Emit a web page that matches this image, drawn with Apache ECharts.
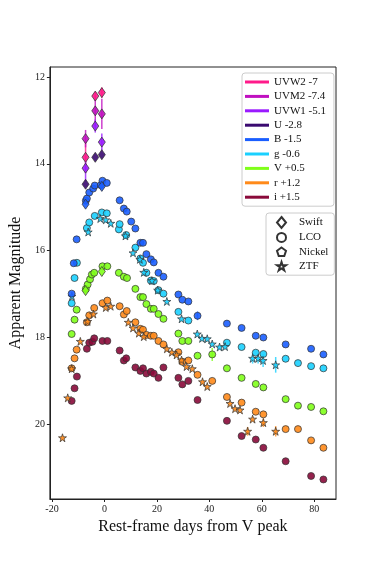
<!DOCTYPE html>
<html>
<head>
<meta charset="utf-8">
<script src="https://cdn.jsdelivr.net/npm/echarts@6/dist/echarts.min.js"></script>
<style>
  html, body { margin: 0; padding: 0; background: #fff; }
  #chart { width: 374px; height: 561px; }
</style>
</head>
<body>
<div id="chart"></div>
<script>
// band labels (legend) and tick values
const bandNames = ['UVW2 -7', 'UVM2 -7.4', 'UVW1 -5.1', 'U -2.8', 'B -1.5', 'g -0.6', 'V +0.5', 'r +1.2', 'i +1.5']
const bandColors = ['#ff1a8a', '#c010c0', '#9a1aff', '#3a0a70', '#1a5eff', '#1ad0ff', '#80ff1a', '#ff8a1a', '#8a0a3a']
const telescopes = ['Swift', 'LCO', 'Nickel', 'ZTF']
const xTicks = [-20, 0, 20, 40, 60, 80]
const yTicks = [12, 14, 16, 18, 20]

// [rest-frame day, apparent magnitude]
const uvw2Swift = [[-7.2, 13.85], [-3.5, 12.44], [-1.0, 12.36]]
const uvm2Swift = [[-7.2, 13.42], [-3.5, 12.78], [-1.0, 12.85]]
const uvw1Swift = [[-7.2, 14.10], [-3.5, 13.13], [-1.0, 13.50]]
const uSwift = [[-7.2, 14.47], [-3.5, 13.85], [-1.0, 13.79]]
const bSwift = [[-7.2, 14.93], [-1.0, 14.52]]
const vSwift = [[-7.2, 16.92], [-1.0, 16.48]]

const bLCO = [[-12.5, 16.99], [-11.7, 16.29], [-10.6, 15.74], [-7.1, 14.85], [-6.7, 14.80], [-5.8, 14.66], [-4.3, 14.57],
  [-3.7, 14.50], [-1.4, 14.49], [-0.75, 14.39], [0.9, 14.44], [5.8, 14.84], [7.4, 15.03], [8.5, 15.10], [10.2, 15.33],
  [11.8, 15.49], [13.7, 15.82], [14.7, 15.82], [16.0, 16.08], [17.7, 16.20], [18.8, 16.27], [20.6, 16.51], [22.5, 16.60],
  [28.2, 17.01], [29.7, 17.13], [32.0, 17.17], [35.5, 17.50], [46.7, 17.68], [52.3, 17.78], [57.7, 17.96], [60.6, 18.00],
  [69.1, 18.16], [78.8, 18.26], [83.5, 18.39]]
const gLCO = [[-12.5, 17.21], [-11.4, 16.63], [-10.5, 16.28], [-6.7, 15.48], [-5.8, 15.35], [-3.7, 15.20], [-1.0, 15.12],
  [0.9, 15.14], [5.5, 15.51], [5.8, 15.39], [8.3, 15.64], [11.8, 15.93], [13.7, 16.18], [14.7, 16.28], [16.0, 16.51],
  [17.7, 16.69], [18.8, 16.70], [20.6, 16.91], [22.5, 16.99], [28.2, 17.41], [32.0, 17.61], [46.7, 18.12], [52.3, 18.22],
  [57.7, 18.35], [60.6, 18.38], [69.1, 18.49], [73.8, 18.59], [78.8, 18.66], [83.5, 18.71]]
const vLCO = [[-12.5, 17.92], [-11.4, 17.59], [-10.6, 17.36], [-7.1, 16.88], [-6.4, 16.78], [-5.5, 16.66], [-4.8, 16.55],
  [-3.9, 16.51], [-0.75, 16.36], [1.1, 16.36], [5.5, 16.51], [7.4, 16.60], [8.6, 16.63], [11.8, 16.88], [13.7, 17.07],
  [14.7, 17.07], [16.0, 17.23], [17.7, 17.34], [18.8, 17.34], [20.6, 17.46], [22.5, 17.57], [28.2, 17.91], [29.7, 18.08],
  [32.0, 18.08], [35.5, 18.42], [41.1, 18.39], [46.7, 18.71], [52.3, 18.93], [57.7, 19.07], [60.6, 19.15], [69.1, 19.42],
  [73.8, 19.57], [78.8, 19.60], [83.5, 19.70]]
const rLCO = [[-12.5, 18.71], [-11.4, 18.48], [-10.6, 18.28], [-6.7, 17.65], [-5.8, 17.49], [-3.9, 17.32], [-0.75, 17.21],
  [1.1, 17.15], [5.8, 17.28], [7.4, 17.47], [8.5, 17.39], [11.8, 17.65], [13.7, 17.80], [14.7, 17.82], [16.0, 17.94],
  [17.7, 17.96], [18.8, 17.96], [20.6, 18.08], [22.5, 18.16], [28.2, 18.34], [29.7, 18.56], [32.0, 18.53], [35.5, 18.86],
  [41.1, 19.00], [46.7, 19.37], [52.3, 19.50], [57.7, 19.71], [60.6, 19.77], [69.1, 20.11], [73.8, 20.11], [78.8, 20.37],
  [83.5, 20.54]]
const iLCO = [[-12.5, 19.46], [-11.4, 19.17], [-10.5, 18.90], [-6.7, 18.26], [-5.8, 18.12], [-4.6, 18.10], [-3.9, 18.02],
  [-0.75, 18.08], [1.1, 18.08], [5.8, 18.30], [7.4, 18.53], [8.3, 18.48], [11.8, 18.69], [13.7, 18.77], [14.7, 18.71],
  [16.0, 18.83], [17.7, 18.79], [18.8, 18.83], [20.6, 18.93], [22.5, 18.69], [28.2, 18.93], [29.7, 19.08], [32.0, 19.00],
  [35.5, 19.44], [46.7, 19.92], [52.3, 20.27], [57.7, 20.35], [60.6, 20.54], [69.1, 20.85], [78.8, 21.19], [83.5, 21.27]]

const gZTF = [[-12.4, 17.05], [-6.2, 15.57], [-1.6, 15.26], [0.5, 15.29], [2.4, 15.37], [8.0, 15.66], [10.9, 16.05],
  [13.5, 16.20], [15.0, 16.50], [18.1, 16.69], [20.3, 16.91], [23.8, 17.17], [29.4, 17.57], [35.4, 17.92], [37.2, 18.02],
  [39.2, 18.03], [41.1, 18.15], [43.9, 18.22], [46.0, 18.21], [56.5, 18.48], [58.6, 18.48], [60.5, 18.53], [65.3, 18.63]]
const rZTF = [[-16.0, 20.31], [-14.0, 19.39], [-12.5, 18.72], [-9.2, 18.09], [-6.4, 17.63], [-4.2, 17.46], [0.5, 17.31],
  [2.4, 17.28], [9.1, 17.65], [10.9, 17.78], [13.1, 17.90], [15.0, 17.98], [23.8, 18.26], [25.7, 18.34], [27.5, 18.40],
  [29.4, 18.52], [31.3, 18.67], [33.5, 18.72], [37.4, 19.02], [39.2, 19.13], [47.9, 19.52], [49.8, 19.64], [51.7, 19.67],
  [54.6, 20.16], [56.5, 19.88], [60.6, 19.96], [65.3, 20.16]]

// error bars: [day, mag, err]
const uvw2Err = [[-7.2, 13.85, 0.35], [-3.5, 12.44, 0.1], [-1.0, 12.36, 0.12]]
const uvm2Err = [[-7.2, 13.42, 0.2], [-3.5, 12.78, 0.35], [-1.0, 12.85, 0.35]]
const uvw1Err = [[-7.2, 14.10, 0.3], [-3.5, 13.13, 0.15], [-1.0, 13.50, 0.2]]
const bErr = [[35.5, 17.50, 0.1]]
const gErr = [[56.5, 18.48, 0.12], [58.6, 18.48, 0.12], [60.5, 18.53, 0.15], [65.3, 18.63, 0.18]]
const vErr = [[41.1, 18.39, 0.15]]
const rErr = [[54.6, 20.16, 0.1], [60.6, 19.96, 0.1], [65.3, 20.16, 0.12]]

const serif = '"Liberation Serif", "DejaVu Serif", serif'
const pentagon = 'path://M0,-1 L0.951,-0.309 L0.588,0.809 L-0.588,0.809 L-0.951,-0.309 Z'
const star = 'path://M0,-1 L0.2245,-0.309 L0.951,-0.309 L0.363,0.118 L0.588,0.809 L0,0.382 L-0.588,0.809 L-0.363,0.118 L-0.951,-0.309 L-0.2245,-0.309 Z'
const telSymbols = { Swift: 'diamond', LCO: 'circle', Nickel: pentagon, ZTF: star }
const telSizes = { Swift: [7, 10], LCO: 7, Nickel: 8, ZTF: 8 }

function errSeries(data, color) {
  return {
    type: 'custom',
    silent: true,
    z: 1,
    data: data,
    renderItem: function (params, api) {
      const p1 = api.coord([api.value(0), api.value(1) - api.value(2)])
      const p2 = api.coord([api.value(0), api.value(1) + api.value(2)])
      return {
        type: 'line',
        shape: { x1: p1[0], y1: p1[1], x2: p2[0], y2: p2[1] },
        style: { stroke: color, lineWidth: 1.5, opacity: 0.8 }
      }
    }
  }
}

function pts(data, band, tel) {
  return {
    type: 'scatter',
    z: 3,
    data: data,
    symbol: telSymbols[tel],
    symbolSize: telSizes[tel],
    itemStyle: { color: bandColors[band], borderColor: '#333', borderWidth: 0.8, opacity: 0.9 }
  }
}

const series = []
// dummy series, only for the two legends
bandNames.forEach((n, i) => series.push({ name: n, type: 'line', data: [], color: bandColors[i] }))
telescopes.forEach(t => series.push({
  name: t, type: 'scatter', data: [], symbol: telSymbols[t],
  itemStyle: { color: '#fff', borderColor: '#000', borderWidth: t === 'ZTF' ? 0.9 : 1.2 }
}))

series.push(errSeries(uvw2Err, bandColors[0]), errSeries(uvm2Err, bandColors[1]), errSeries(uvw1Err, bandColors[2]),
  errSeries(bErr, bandColors[4]), errSeries(gErr, bandColors[5]), errSeries(vErr, bandColors[6]), errSeries(rErr, bandColors[7]))

series.push(
  pts(iLCO, 8, 'LCO'), pts(rLCO, 7, 'LCO'), pts(rZTF, 7, 'ZTF'), pts(vLCO, 6, 'LCO'), pts(vSwift, 6, 'Swift'),
  pts(gLCO, 5, 'LCO'), pts(gZTF, 5, 'ZTF'), pts(bLCO, 4, 'LCO'), pts(bSwift, 4, 'Swift'),
  pts(uSwift, 3, 'Swift'), pts(uvw1Swift, 2, 'Swift'), pts(uvm2Swift, 1, 'Swift'), pts(uvw2Swift, 0, 'Swift')
)

const chart = echarts.init(document.getElementById('chart'), null, { renderer: 'canvas' })
chart.setOption({
  animation: false,
  backgroundColor: '#fff',
  grid: { left: 47, right: 38, top: 67, bottom: 62, show: true, borderColor: '#222', borderWidth: 1 },
  legend: [
    {
      data: bandNames,
      orient: 'vertical',
      left: 242, top: 73,
      icon: 'rect', itemWidth: 24, itemHeight: 3, itemGap: 2.4,
      padding: [3, 8, 3, 3],
      selectedMode: false,
      borderColor: '#ccc', borderWidth: 1, borderRadius: 3,
      textStyle: { fontFamily: serif, fontSize: 11, color: '#111', lineHeight: 12 }
    },
    {
      data: telescopes,
      orient: 'vertical',
      left: 266, top: 213,
      itemWidth: 9, itemHeight: 11, itemGap: 2.4,
      padding: [3, 6, 3, 10],
      selectedMode: false,
      borderColor: '#ccc', borderWidth: 1, borderRadius: 3,
      textStyle: { fontFamily: serif, fontSize: 11, color: '#111', lineHeight: 12, padding: [0, 0, 0, 8] }
    }
  ],
  xAxis: {
    type: 'value', min: -20.8, max: 88.3,
    name: 'Rest-frame days from V peak', nameLocation: 'middle', nameGap: 17,
    nameTextStyle: { fontFamily: serif, fontSize: 16, color: '#111' },
    axisLine: { onZero: false, lineStyle: { color: '#222' } },
    axisTick: { show: true, length: 3, lineStyle: { color: '#222' }, customValues: xTicks },
    axisLabel: { fontFamily: serif, fontSize: 10, color: '#222', margin: 5, customValues: xTicks },
    splitLine: { show: false }
  },
  yAxis: {
    type: 'value', inverse: true, min: 11.77, max: 21.72,
    name: 'Apparent Magnitude', nameLocation: 'middle', nameGap: 22, nameRotate: 90,
    nameTextStyle: { fontFamily: serif, fontSize: 16, color: '#111' },
    axisLine: { show: true, onZero: false, lineStyle: { color: '#222' } },
    axisTick: { show: true, length: 3, lineStyle: { color: '#222' }, customValues: yTicks },
    axisLabel: { fontFamily: serif, fontSize: 10, color: '#222', margin: 5, customValues: yTicks },
    splitLine: { show: false }
  },
  series: series
})
</script>
</body>
</html>
